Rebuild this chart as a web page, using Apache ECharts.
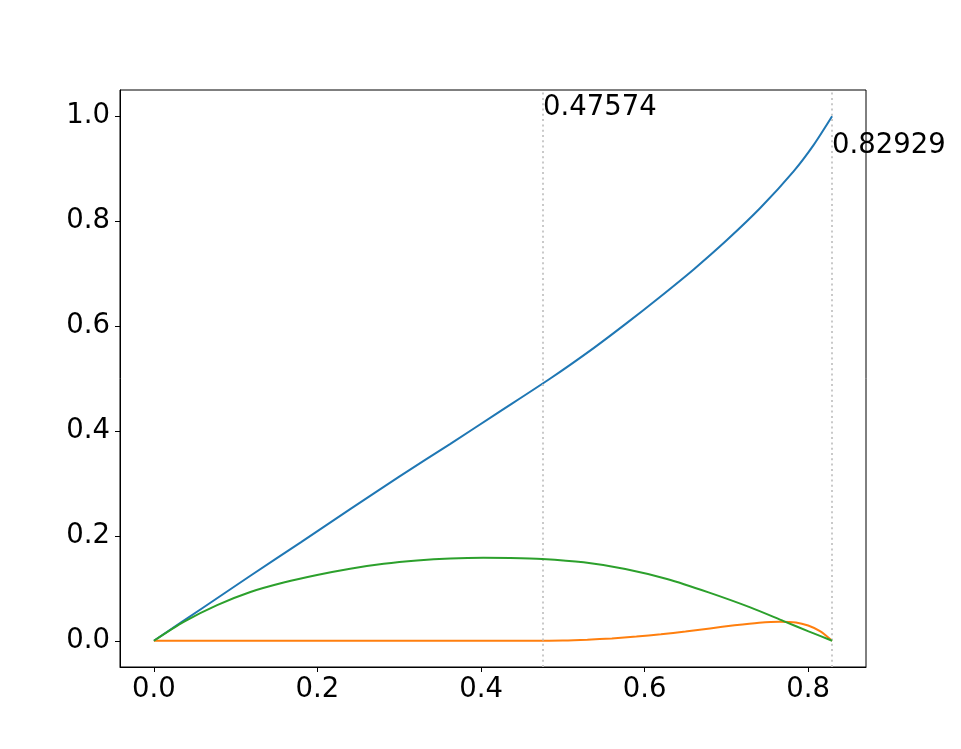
<!DOCTYPE html>
<html>
<head>
<meta charset="utf-8">
<script src="https://cdn.jsdelivr.net/npm/echarts@6/dist/echarts.min.js"></script>
<style>
html,body{margin:0;padding:0;background:#fff;}
#chart{width:961px;height:749px;}
</style>
</head>
<body>
<div id="chart"></div>
<script>
// ---- data ----
const blueX = [0, 0.06, 0.118, 0.18, 0.24, 0.30, 0.3625, 0.42, 0.4847, 0.5377, 0.5785, 0.6192, 0.660, 0.7007, 0.7414, 0.7822, 0.8066, 0.82929];
const blueY = [0, 0.063, 0.124, 0.188, 0.251, 0.313, 0.3754, 0.434, 0.500, 0.558, 0.606, 0.656, 0.708, 0.764, 0.825, 0.895, 0.945, 1.0];

const orangeX = [0, 0.2, 0.4, 0.47574, 0.50, 0.53, 0.56, 0.59, 0.62, 0.65, 0.68, 0.71, 0.74, 0.765, 0.785, 0.80, 0.815, 0.82929];
const orangeY = [0, 0, 0, 0, 0.0003, 0.002, 0.0045, 0.008, 0.0125, 0.0175, 0.0235, 0.0295, 0.0345, 0.0365, 0.035, 0.029, 0.018, 0];

const greenX = [0, 0.0364, 0.0773, 0.118, 0.1587, 0.1995, 0.240, 0.281, 0.3218, 0.3625, 0.403, 0.4358, 0.4746, 0.5254, 0.5764, 0.6274, 0.6782, 0.7292, 0.770, 0.8005, 0.82929];
const greenY = [0, 0.036, 0.068, 0.093, 0.111, 0.1255, 0.1375, 0.1468, 0.1530, 0.1568, 0.1582, 0.1578, 0.1559, 0.1495, 0.1368, 0.1177, 0.0922, 0.0636, 0.0375, 0.018, 0];

const markerX = [0.47574, 0.82929];
const markerLabelY = [1.0, 0.9288];
const markerText = ['0.47574', '0.82929'];

const xTicks = [0.0, 0.2, 0.4, 0.6, 0.8];
const yTicks = [0.0, 0.2, 0.4, 0.6, 0.8, 1.0];

const xMin = -0.041465, xMax = 0.870755;
const yMin = -0.05, yMax = 1.05;

// ---- build ----
const zip = (xs, ys) => xs.map((x, i) => [x, ys[i]]);
const FONT = 'DejaVu Sans';
const FS = 27.5;

const chart = echarts.init(document.getElementById('chart'), null, {renderer: 'canvas'});
chart.setOption({
  animation: false,
  backgroundColor: '#ffffff',
  grid: {left: 120, top: 90, width: 746, height: 577, show: true, borderColor: '#000', borderWidth: 1, backgroundColor: 'transparent'},
  xAxis: {
    type: 'value', min: xMin, max: xMax,
    axisLine: {show: true, onZero: false, lineStyle: {color: '#000', width: 1}},
    axisTick: {show: true, length: 5, lineStyle: {color: '#000', width: 1}, customValues: xTicks},
    axisLabel: {color: '#000', fontFamily: FONT, fontSize: FS, margin: 9, customValues: xTicks, formatter: v => v.toFixed(1)},
    splitLine: {show: false}
  },
  yAxis: {
    type: 'value', min: yMin, max: yMax,
    axisLine: {show: true, onZero: false, lineStyle: {color: '#000', width: 1}},
    axisTick: {show: true, length: 5, lineStyle: {color: '#000', width: 1}, customValues: yTicks},
    axisLabel: {color: '#000', fontFamily: FONT, fontSize: FS, margin: 10, customValues: yTicks, formatter: v => v.toFixed(1)},
    splitLine: {show: false}
  },
  series: [
    {type: 'line', data: zip(blueX, blueY), showSymbol: false, smooth: 0.25, lineStyle: {color: '#1f77b4', width: 2}, itemStyle: {color: '#1f77b4'}, z: 3},
    {type: 'line', data: zip(orangeX, orangeY), showSymbol: false, smooth: 0.25, lineStyle: {color: '#ff7f0e', width: 2}, itemStyle: {color: '#ff7f0e'}, z: 4},
    {type: 'line', data: zip(greenX, greenY), showSymbol: false, smooth: 0.25, lineStyle: {color: '#2ca02c', width: 2}, itemStyle: {color: '#2ca02c'}, z: 5},
    {
      type: 'scatter', z: 2, silent: true,
      data: zip(markerX, markerLabelY).map((p, i) => ({value: p, name: markerText[i]})),
      symbolSize: 0,
      itemStyle: {opacity: 1},
      label: {show: true, position: [0, 0], align: 'left', verticalAlign: 'middle', offset: [0, -8], formatter: p => p.name, color: '#000', opacity: 1, fontFamily: FONT, fontSize: FS},
      markLine: {
        silent: true, symbol: 'none', precision: 6,
        label: {show: false},
        lineStyle: {color: '#c4c4c4', width: 1.8, type: [2, 3.3], opacity: 1},
        emphasis: {disabled: true},
        data: markerX.map(x => ({xAxis: x}))
      }
    }
  ]
});
</script>
</body>
</html>
